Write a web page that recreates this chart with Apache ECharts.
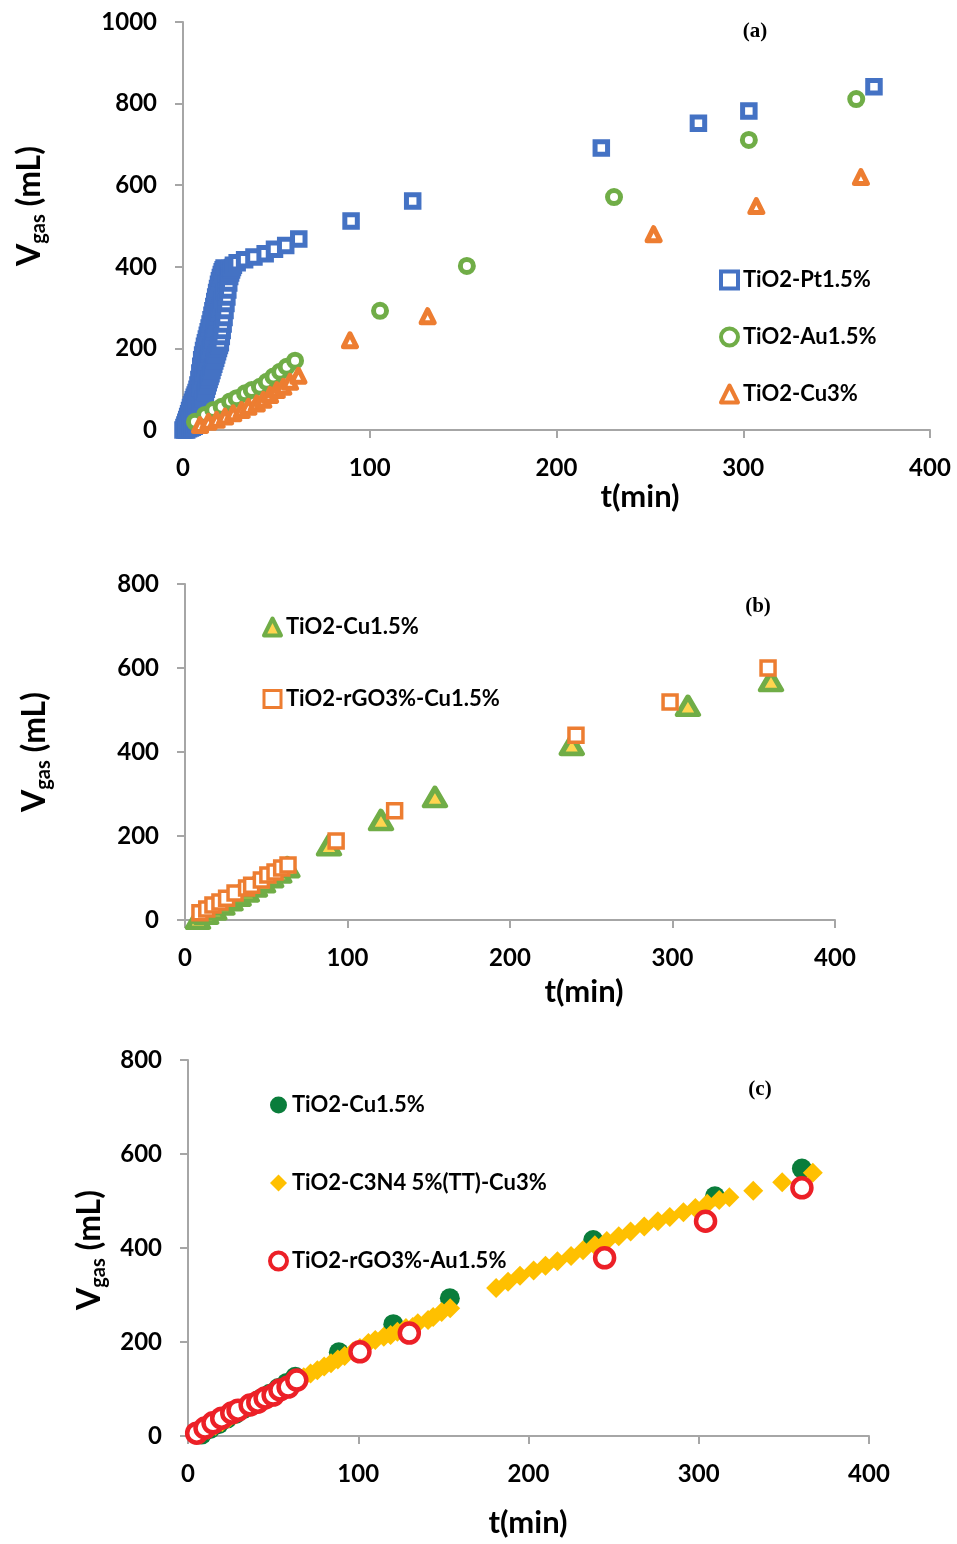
<!DOCTYPE html>
<html><head><meta charset="utf-8">
<script src="https://cdn.jsdelivr.net/npm/echarts/dist/echarts.min.js"></script>
<style>html,body{margin:0;padding:0;background:#fff}#c{width:957px;height:1544px}</style>
</head><body><div id="c"></div><script>
// ---------- data: [t (min), V gas (mL)] ----------
// Panel (a)
const ptRunFast = [[0,0],[0.5,6],[1,12],[1.5,19],[2,26],[2.5,33],[3,40],[3.5,48],[4,55],[4.5,62],[5,68],[5.5,74],[6,80],[6.5,86],[7,92],[7.5,100],[8,110],[8.5,124],[9,140],[9.5,156],[10,172],[10.5,184],[11,195],[11.5,205],[12,214],[12.5,223],[13,232],[13.5,241],[14,250],[14.5,260],[15,270],[15.5,281],[16,292],[16.5,303],[17,315],[17.5,326],[18,337],[18.5,347],[19,357],[19.5,366],[20,374],[20.5,381],[21,388],[21.5,393],[22,397]];
const ptRunMid = [[1,0],[1.5,3],[2,6],[2.5,10],[3,14],[3.5,19],[4,24],[4.5,30],[5,36],[5.5,42],[6,48],[6.5,54],[7,60],[7.5,67],[8,74],[8.5,83],[9,92],[9.5,102],[10,112],[10.5,122],[11,132],[11.5,141],[12,150],[12.5,159],[13,168],[13.5,177],[14,186],[14.5,195],[15,204],[15.5,213],[16,222],[16.5,231],[17,240],[17.5,249],[18,258],[18.5,268],[19,278],[19.5,288],[20,298],[20.5,308],[21,318],[21.5,328],[22,338],[22.5,349],[23,360],[23.5,370],[24,380],[24.5,388],[25,396]];
const ptRunSlow = [[2,0],[3,3],[4,5],[5,7],[6,9],[7,12],[7.5,20],[8,28],[8.5,36],[9,45],[9.5,52],[10,60],[10.5,68],[11,76],[11.5,84],[12,92],[12.5,100],[13,108],[13.5,116],[14,124],[14.5,131],[15,138],[15.5,146],[16,154],[16.5,161],[17,169],[17.5,176],[18,184],[18.5,192],[19,200],[19.5,207],[20,214],[20.5,229],[21,244],[21.5,260],[22,276],[22.5,293],[23,310],[23.5,326],[24,343],[24.5,360],[25,376],[25.5,385],[26,392],[26.5,398],[27,404]];
const ptLate = [[29,410],[33,417],[38,424],[44,432],[49,443],[55,452],[62,468],[90,512],[123,561],[224,691],[276,752],[303,782],[370,841]];
const auData = [[6.4,20],[11.8,37],[16.2,49],[20.7,57],[25.2,70],[28.7,78],[33.2,90],[36.8,98],[41.2,106],[44.8,118],[48.4,131],[52,143],[55.5,155],[60,170],[105.5,292],[152,402],[230.8,571],[303,711],[360.5,811]];
const cu3Data = [[9.1,12],[13.6,20],[18,25],[22.5,33],[26.9,41],[31.4,49],[35,57],[39.5,65],[43,74],[46.6,86],[50.2,98],[53.7,106],[57.3,118],[61.8,133],[89.4,220],[131,279],[252,480],[307,549],[363,620]];
// Panel (b) and (c)
const cu15Data = [[8,3],[13,15],[18,25],[23,37],[28,47],[33,58],[38,68],[43,80],[48,90],[53,102],[58,113],[63,126],[88.6,178],[120.6,238],[153.8,293],[238,417],[309.5,510],[360.6,569]];
const rgoCuData = [[9.2,17],[13.4,26],[17.2,36],[21.5,43],[25.6,52],[30.8,64],[37.9,76],[41,83],[47,95],[51,107],[55.4,114],[59.5,124],[63.4,131],[93,188],[129,260],[240.6,440],[298.5,519],[358.8,600]];
const c3n4Data = [[8,5],[12,14],[16,22],[20,30],[24,38],[28,46],[32,54],[36,62],[40,70],[44,78],[48,86],[52,94],[56,101],[60,109],[64,117],[68,125],[72,133],[76,140],[80,148],[84,155],[88,163],[92,170],[97,180],[101,187],[106,198],[110,204],[115,211],[119,215],[123,222],[128,230],[132,232],[135,240],[141,247],[144,253],[149,264],[154,272],[181,315],[188,328],[195,341],[203,352],[210,362],[217,372],[225,383],[232,395],[239,406],[246,415],[253,425],[260,435],[268,446],[276,457],[283,466],[291,476],[298,485],[305,494],[312,502],[318,508],[332,522],[349,540],[367,560]];
const rgoAuData = [[5.1,6],[10,17],[14.7,28],[19.8,38],[25.7,49],[29.4,55],[36.5,66],[41,72],[45.3,81],[50,87],[54,98],[58.8,104],[63.9,119],[101,179],[130,219],[244.7,379],[304,457],[360.6,528]];

const namesA = ['TiO2-Pt1.5%','TiO2-Au1.5%','TiO2-Cu3%'];
const namesB = ['TiO2-Cu1.5%','TiO2-rGO3%-Cu1.5%'];
const namesC = ['TiO2-Cu1.5% ','TiO2-C3N4 5%(TT)-Cu3%','TiO2-rGO3%-Au1.5%'];
const panelTags = ['(a)','(b)','(c)'];
const xName = 't(min)';

// ---------- styling ----------
const F = 'Lato, "Open Sans", sans-serif';
const AX = '#A6A6A6';
const C = {blue:'#4472C4', green:'#70AD47', orange:'#ED7D31', dgreen:'#0A7D3B', gold:'#FFC000', red:'#EC2027', yellow:'#FFD54F'};

function xAx(i){return {gridIndex:i,type:'value',min:0,max:400,interval:100,
  axisLine:{show:true,lineStyle:{color:AX,width:2}},axisTick:{show:true,length:8,lineStyle:{color:AX,width:2}},
  splitLine:{show:false},axisLabel:{margin:26,color:'#000',fontFamily:F,fontWeight:'bold',fontSize:24,formatter:v=>String(v)}};}
function yAx(i,max){return {gridIndex:i,type:'value',min:0,max:max,interval:200,
  axisLine:{show:true,lineStyle:{color:AX,width:2}},axisTick:{show:true,length:8,lineStyle:{color:AX,width:2}},
  splitLine:{show:false},axisLabel:{margin:26,color:'#000',fontFamily:F,fontWeight:'bold',fontSize:24,formatter:v=>String(v)}};}
function sc(name,data,gi,symbol,size,style){return {type:'scatter',name:name,data:data,xAxisIndex:gi,yAxisIndex:gi,
  symbol:symbol,symbolSize:size,itemStyle:Object.assign({opacity:1},style),emphasis:{disabled:true},silent:true};}
function yName(x,y){return {type:'text',x:x,y:y,rotation:Math.PI/2,style:{text:'{v|V}{s|gas}{v| (mL)}',
  rich:{v:{fontSize:32,fontWeight:'bold',fontFamily:F,lineHeight:38,fill:'#000'},
        s:{fontSize:20,fontWeight:'bold',fontFamily:F,lineHeight:20,verticalAlign:'bottom',fill:'#000'}},
  align:'center',verticalAlign:'middle'}};}
function tx(x,y,text,size,fam){return {type:'text',x:x,y:y,style:{text:text,fontSize:size,fontWeight:'bold',fontFamily:fam,fill:'#000',align:'center',verticalAlign:'middle'}};}
function lg(names,left,top,gap,styles){return {orient:'vertical',left:left,top:top,itemGap:gap,itemWidth:17,itemHeight:17,selectedMode:false,
  textStyle:{fontFamily:F,fontWeight:'bold',fontSize:22,color:'#000',lineHeight:24},
  data:names.map((n,i)=>({name:n,itemStyle:styles[i]}))};}

const opt = {
  animation:false,
  grid:[
    {left:183,top:22,width:747,height:408},
    {left:185,top:584,width:650,height:336},
    {left:188,top:1060,width:681,height:376}
  ],
  xAxis:[xAx(0),xAx(1),xAx(2)],
  yAxis:[yAx(0,1000),yAx(1,800),yAx(2,800)],
  legend:[
    lg(namesA,714,263,33,[{borderWidth:4},{borderWidth:4},{borderWidth:4}]),
    lg(namesB,257,610,48,[{borderWidth:4},{borderWidth:3}]),
    lg(namesC,263,1088,54,[{borderWidth:0},{borderWidth:0},{borderWidth:4}])
  ],
  series:[
    sc(namesA[0],ptRunFast.concat(ptRunMid,ptRunSlow,ptLate),0,'rect',12.5,{color:'#fff',borderColor:C.blue,borderWidth:5}),
    sc(namesA[1],auData,0,'circle',13,{color:'#fff',borderColor:C.green,borderWidth:5}),
    sc(namesA[2],cu3Data,0,'triangle',13,{color:'#fff',borderColor:C.orange,borderWidth:5,borderJoin:'round'}),
    sc(namesB[0],cu15Data,1,'triangle',[21,18],{color:C.yellow,borderColor:C.green,borderWidth:5,borderJoin:'round'}),
    sc(namesB[1],rgoCuData,1,'rect',14,{color:'#fff',borderColor:C.orange,borderWidth:3.5}),
    sc(namesC[0],cu15Data,2,'circle',20,{color:C.dgreen}),
    sc(namesC[1],c3n4Data,2,'diamond',20,{color:C.gold}),
    sc(namesC[2],rgoAuData,2,'circle',19,{color:'#fff',borderColor:C.red,borderWidth:4.5})
  ],
  graphic:[
    yName(30,206), yName(35,752), yName(90,1250),
    tx(640,497,xName,31,F), tx(584,992,xName,31,F), tx(528,1523,xName,31,F),
    tx(755,32,panelTags[0],21,'"Liberation Serif", "Times New Roman", serif'),
    tx(758,607,panelTags[1],21,'"Liberation Serif", "Times New Roman", serif'),
    tx(760,1090,panelTags[2],21,'"Liberation Serif", "Times New Roman", serif')
  ]
};
const chart = echarts.init(document.getElementById('c'),null,{renderer:'canvas'});
chart.setOption(opt);
</script></body></html>
